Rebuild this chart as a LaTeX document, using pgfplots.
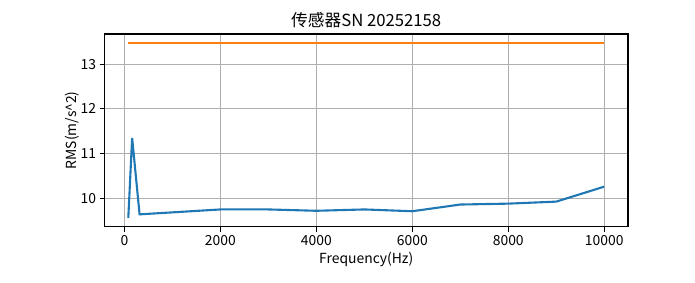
\documentclass[border=0pt]{standalone}
\usepackage{fontspec}
\setmainfont{Noto Sans CJK SC}
\usepackage{pgfplots}
\pgfplotsset{compat=1.18}
\definecolor{mblue}{HTML}{1F77B4}
\definecolor{morange}{HTML}{FF7F0E}
\definecolor{mgrid}{HTML}{B0B0B0}
\begin{document}
\begin{tikzpicture}[x=1pt,y=1pt]
\useasboundingbox (0,0) rectangle (695,283);
\begin{axis}[
  at={(104.5pt,56.3pt)}, anchor=south west,
  scale only axis, width=523.5pt, height=192.7pt,
  xmin=-416, xmax=10496, ymin=9.364, ymax=13.676,
  xtick={0,2000,4000,6000,8000,10000}, ytick={10,11,12,13},
  scaled x ticks=false,
  xticklabel style={/pgf/number format/.cd,1000 sep={}},
  /pgf/number format/assume math mode=true,
  tick label style={font=\fontsize{13.9}{14}\selectfont},
  grid=major, major grid style={color=mgrid, line width=1.1pt},
  axis line style={line width=1.1pt},
  tick style={black, line width=1.1pt},
  tick align=outside, major tick length=4.9pt, tick pos=left,
  xticklabel shift=0pt, yticklabel shift=0pt,
  title={传感器SN 20252158},
  title style={font=\fontsize{16.7}{18}\selectfont, at={(0.5,1)}, anchor=south, yshift=-3pt},
  xlabel={Frequency(Hz)}, ylabel={RMS(m/s\textasciicircum 2)},
  label style={font=\fontsize{13.9}{14}\selectfont},
  xlabel style={at={(0.5,0)}, anchor=center, yshift=-33pt},
  ylabel style={at={(0,0.5)}, anchor=center, rotate=0, yshift=32pt},
]
\addplot[mblue, line width=2.1pt] coordinates {
  (80,9.56) (160,11.35) (315,9.64) (2000,9.75) (3000,9.75) (4000,9.72)
  (5000,9.75) (6000,9.71) (7000,9.86) (8000,9.88) (9000,9.925) (10000,10.26)
};
\addplot[morange, line width=2.1pt] coordinates {
  (80,13.48) (10000,13.48)
};
\end{axis}
\end{tikzpicture}
\end{document}
